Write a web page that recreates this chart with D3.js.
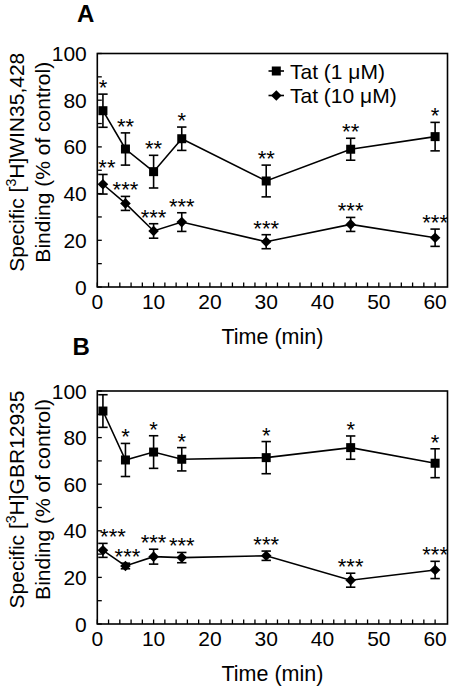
<!DOCTYPE html>
<html><head><meta charset="utf-8">
<script src="https://cdn.jsdelivr.net/npm/d3@7"></script>
<style>body{margin:0;background:#fff}svg{display:block}text{font-family:Arial,"Liberation Sans",sans-serif;fill:#000}</style>
</head><body><svg id="c" width="450" height="690"></svg>
<script>
const times = [1, 5, 10, 15, 30, 45, 60];
// Panel A: [3H]WIN35,428
const aLowMean  = [75.5, 59.1, 49.4, 63.5, 45.4, 59.0, 64.4];
const aLowErr   = [7.1, 6.9, 7.0, 5.0, 6.8, 4.7, 6.1];
const aLowStars = ["*", "**", "**", "*", "**", "**", "*"];
const aHighMean = [44.0, 35.8, 24.0, 27.8, 19.4, 26.8, 21.1];
const aHighErr  = [4.2, 3.0, 3.1, 4.0, 3.0, 3.0, 3.7];
const aHighStars = ["**", "***", "***", "***", "***", "***", "***"];
// Panel B: [3H]GBR12935
const bLowMean  = [91.4, 70.4, 73.8, 70.7, 71.4, 75.7, 69.0];
const bLowErr   = [7.0, 7.1, 7.0, 5.0, 6.9, 5.0, 6.2];
const bLowStars = ["", "*", "*", "*", "*", "*", "*"];
const bHighMean = [31.6, 24.9, 28.9, 28.5, 29.3, 18.8, 23.2];
const bHighErr  = [3.0, 1.2, 3.2, 2.2, 2.0, 3.0, 3.7];
const bHighStars = ["***", "***", "***", "***", "***", "***", "***"];

const xTicks = [0, 10, 20, 30, 40, 50, 60];
const yTicks = [0, 20, 40, 60, 80, 100];
const seriesNames = ["Tat (1 \u03bcM)", "Tat (10 \u03bcM)"];

const svg = d3.select("#c");
const left = 97.3, right = 447.5;
const x = d3.scaleLinear().domain([0, 62.2]).range([left, right]);

function squareSym(g, cx, cy) {
  g.append("rect").attr("x", cx - 4.5).attr("y", cy - 4.5).attr("width", 9).attr("height", 9).attr("fill", "#000");
}
function diamondSym(g, cx, cy) {
  const r = 5.3;
  g.append("path").attr("d", `M${cx},${cy - r}L${cx + r},${cy}L${cx},${cy + r}L${cx - r},${cy}Z`).attr("fill", "#000");
}

function panel(cfg) {
  const y = d3.scaleLinear().domain([0, 100]).range([cfg.bottom, cfg.top]);
  const g = svg.append("g");
  g.append("rect").attr("x", left).attr("y", cfg.top).attr("width", right - left).attr("height", cfg.bottom - cfg.top)
    .attr("fill", "none").attr("stroke", "#000").attr("stroke-width", 1.6);
  d3.range(0, 61, 2).forEach(t => {
    g.append("line").attr("x1", x(t)).attr("x2", x(t)).attr("y1", cfg.bottom).attr("y2", cfg.bottom - 4.5)
      .attr("stroke", "#000").attr("stroke-width", 1.3);
  });
  d3.range(0, 101, 10).forEach(v => {
    g.append("line").attr("x1", left).attr("x2", left + 4.5).attr("y1", y(v)).attr("y2", y(v))
      .attr("stroke", "#000").attr("stroke-width", 1.3);
  });
  xTicks.forEach(t => g.append("text").attr("x", x(t)).attr("y", cfg.bottom + 21.5).attr("text-anchor", "middle")
    .attr("font-size", 21).text(t));
  yTicks.forEach(v => g.append("text").attr("x", left - 10.5).attr("y", y(v)).attr("dy", "0.36em").attr("text-anchor", "end")
    .attr("font-size", 21).text(v));
  g.append("text").attr("x", (left + right) / 2).attr("y", cfg.bottom + 57).attr("text-anchor", "middle")
    .attr("font-size", 21.5).text("Time (min)");
  const cy = (cfg.top + cfg.bottom) / 2 - 8;
  const t1 = g.append("text").attr("transform", `translate(23.5,${cy}) rotate(-90)`).attr("text-anchor", "middle").attr("font-size", 21);
  t1.append("tspan").text("Specific [");
  t1.append("tspan").attr("dy", -8).attr("font-size", 14).text("3");
  t1.append("tspan").attr("dy", 8).text("H]" + cfg.ligand);
  g.append("text").attr("transform", `translate(49.5,${cy}) rotate(-90)`).attr("text-anchor", "middle").attr("font-size", 21)
    .text("Binding (% of control)");
  g.append("text").attr("x", cfg.letterX).attr("y", cfg.letterY).attr("font-size", 24).attr("font-weight", "bold").text(cfg.letter);

  const line = d3.line().x(d => x(d[0])).y(d => y(d[1]));
  cfg.series.forEach((s, si) => {
    const pts = times.map((t, i) => [t, s.mean[i], s.err[i], s.stars[i]]);
    g.append("path").attr("d", line(pts)).attr("fill", "none").attr("stroke", "#000").attr("stroke-width", 1.6);
    pts.forEach((p, i) => {
      const cx = x(p[0]);
      const yt = y(p[1] + p[2]), yb = y(p[1] - p[2]);
      g.append("line").attr("x1", cx).attr("x2", cx).attr("y1", yt).attr("y2", yb).attr("stroke", "#000").attr("stroke-width", 1.6);
      [yt, yb].forEach(yy => g.append("line").attr("x1", cx - 4.7).attr("x2", cx + 4.7).attr("y1", yy).attr("y2", yy)
        .attr("stroke", "#000").attr("stroke-width", 1.6));
      if (si === 0) squareSym(g, cx, y(p[1])); else diamondSym(g, cx, y(p[1]));
      if (p[3]) g.append("text").attr("x", cx + (s.starDx[i] || 0)).attr("y", yt + 1).attr("text-anchor", "middle")
        .attr("font-size", 22).text(p[3]);
    });
  });
  if (cfg.legend) {
    [0, 1].forEach(k => {
      const ly = cfg.top + 17.5 + k * 24.5;
      g.append("line").attr("x1", 268.5).attr("x2", 284).attr("y1", ly).attr("y2", ly).attr("stroke", "#000").attr("stroke-width", 1.6);
      if (k === 0) squareSym(g, 276.3, ly); else diamondSym(g, 276.3, ly);
      g.append("text").attr("x", 290).attr("y", ly).attr("dy", "0.36em").attr("font-size", 21).text(seriesNames[k]);
    });
  }
}

panel({
  top: 53.5, bottom: 287, ligand: "WIN35,428", letter: "A", letterX: 77, letterY: 22, legend: true,
  series: [
    { mean: aLowMean, err: aLowErr, stars: aLowStars, starDx: [] },
    { mean: aHighMean, err: aHighErr, stars: aHighStars, starDx: [4] }
  ]
});
panel({
  top: 391, bottom: 624, ligand: "GBR12935", letter: "B", letterX: 72.5, letterY: 355, legend: false,
  series: [
    { mean: bLowMean, err: bLowErr, stars: bLowStars, starDx: [] },
    { mean: bHighMean, err: bHighErr, stars: bHighStars, starDx: [10, 2] }
  ]
});
</script></body></html>
